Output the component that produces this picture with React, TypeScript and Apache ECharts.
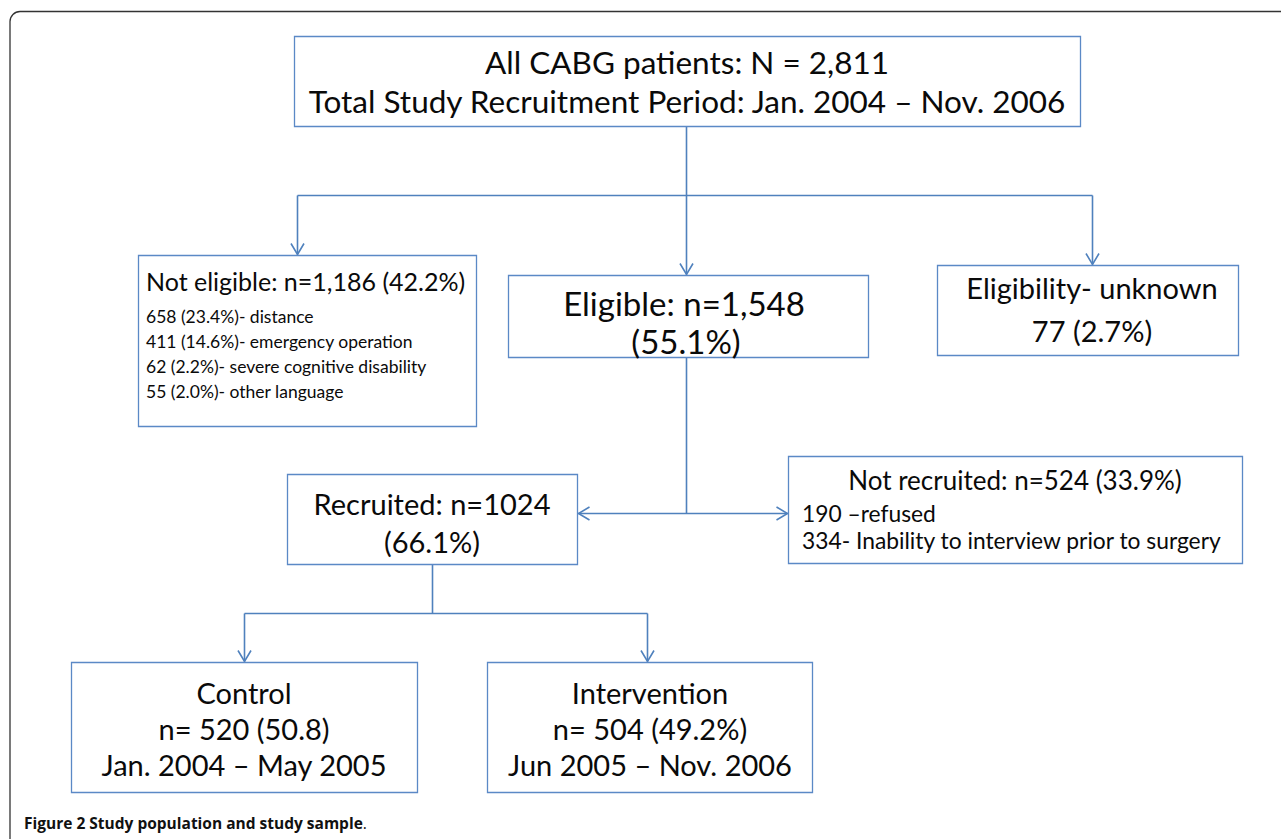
import React, { useEffect, useRef } from "react";
import * as echarts from "echarts";

// ---- Text content (data) ----
const topLines = ["All CABG patients: N = 2,811", "Total Study Recruitment Period: Jan. 2004 \u2013 Nov. 2006"];
const notEligibleTitle = "Not eligible: n=1,186 (42.2%)";
const notEligibleReasons = [
  "658 (23.4%)- distance",
  "411 (14.6%)- emergency operation",
  "62 (2.2%)- severe cognitive disability",
  "55 (2.0%)- other language",
];
const eligibleLines = ["Eligible: n=1,548", "(55.1%)"];
const unknownLines = ["Eligibility- unknown", "77 (2.7%)"];
const recruitedLines = ["Recruited: n=1024", "(66.1%)"];
const notRecruitedTitle = "Not recruited: n=524 (33.9%)";
const notRecruitedReasons = ["190 \u2013refused", "334- Inability to interview prior to surgery"];
const controlLines = ["Control", "n= 520 (50.8)", "Jan. 2004 \u2013 May 2005"];
const interventionLines = ["Intervention", "n= 504 (49.2%)", "Jun 2005 \u2013 Nov. 2006"];
const captionBold = "Figure 2 Study population and study sample";
const captionTail = ".";

// ---- Layout / style constants ----
const W = 1281;
const H = 839;
const BLUE = "#4F81BD";
const BOX = "#5B89C6";
const FONT = "Lato, 'Open Sans', sans-serif";
const TXT = "#0a0a0a";

function rect(x: number, y: number, w: number, h: number) {
  return {
    type: "rect",
    shape: { x: x + 0.5, y: y + 0.5, width: w, height: h },
    style: { fill: "#fff", stroke: BOX, lineWidth: 1.3 },
  };
}
function line(x1: number, y1: number, x2: number, y2: number) {
  return {
    type: "line",
    shape: { x1: x1 + 0.5, y1: y1 + 0.5, x2: x2 + 0.5, y2: y2 + 0.5 },
    style: { stroke: BLUE, lineWidth: 1.6 },
  };
}
function head(x: number, y: number, dir: "down" | "left" | "right") {
  const L = 11;
  const S = 6.5;
  let pts: number[][];
  if (dir === "down") pts = [[x - S, y - L], [x, y], [x + S, y - L]];
  else if (dir === "left") pts = [[x + L, y - S], [x, y], [x + L, y + S]];
  else pts = [[x - L, y - S], [x, y], [x - L, y + S]];
  return {
    type: "polyline",
    shape: { points: pts.map((p) => [p[0] + 0.5, p[1] + 0.5]) },
    style: { stroke: BLUE, lineWidth: 1.6, fill: null },
  };
}
function text(
  s: string,
  x: number,
  y: number,
  size: number,
  align: "left" | "center" = "center",
  weight: string = "normal",
  fontFamily: string = FONT
) {
  return {
    type: "text",
    x,
    y,
    style: {
      text: s,
      font: `${weight} ${size}px ${fontFamily}`,
      fill: TXT,
      align,
      verticalAlign: "middle",
      textAlign: align,
      textVerticalAlign: "middle",
    },
  };
}

export default function App() {
  const ref = useRef<HTMLDivElement>(null);
  useEffect(() => {
    if (!ref.current) return;
    const chart = echarts.init(ref.current, undefined, { renderer: "svg" });
    const els: any[] = [];

    // outer frame (only top-left corner visible)
    els.push({
      type: "rect",
      shape: { x: 10, y: 11.5, width: 1500, height: 1200, r: 10 },
      style: { fill: "none", stroke: "#333", lineWidth: 1.3 },
    });

    // connectors
    els.push(line(686, 126, 686, 195));
    els.push(line(297, 195, 1092, 195));
    els.push(line(297, 195, 297, 254), head(297, 254, "down"));
    els.push(line(686, 195, 686, 274), head(686, 274, "down"));
    els.push(line(1092, 195, 1092, 264), head(1092, 264, "down"));
    els.push(line(686, 357, 686, 513));
    els.push(line(578, 513, 787, 513), head(578, 513, "left"), head(787, 513, "right"));
    els.push(line(432, 564, 432, 613));
    els.push(line(244, 613, 647, 613));
    els.push(line(244, 613, 244, 661), head(244, 661, "down"));
    els.push(line(647, 613, 647, 661), head(647, 661, "down"));

    // boxes
    els.push(rect(294, 36, 786, 90));
    els.push(rect(138, 255, 338, 171));
    els.push(rect(508, 275, 360, 82));
    els.push(rect(937, 265, 301, 90));
    els.push(rect(287, 474, 290, 90));
    els.push(rect(788, 456, 454, 107));
    els.push(rect(71, 662, 346, 130));
    els.push(rect(487, 662, 325, 130));

    // texts
    els.push(text(topLines[0], 687, 62, 31.5));
    els.push(text(topLines[1], 687, 101, 31.5));

    els.push(text(notEligibleTitle, 146, 281, 25, "left"));
    notEligibleReasons.forEach((s, i) => els.push(text(s, 146, 316 + i * 25, 17.5, "left")));

    els.push(text(eligibleLines[0], 684, 303, 33));
    els.push(text(eligibleLines[1], 686, 341, 33));

    els.push(text(unknownLines[0], 1092, 287, 29));
    els.push(text(unknownLines[1], 1092, 330, 29));

    els.push(text(recruitedLines[0], 432, 503, 29));
    els.push(text(recruitedLines[1], 432, 541, 29));

    els.push(text(notRecruitedTitle, 1015, 480, 26));
    notRecruitedReasons.forEach((s, i) => els.push(text(s, 802, 513 + i * 27, 22.8, "left")));

    controlLines.forEach((s, i) => els.push(text(s, 244, 692 + i * 36, 29)));
    interventionLines.forEach((s, i) => els.push(text(s, 650, 692 + i * 36, 29)));

    // caption
    els.push({
      type: "text",
      x: 24,
      y: 823,
      style: {
        text: `{b|${captionBold}}{r|${captionTail}}`,
        rich: {
          b: { font: `bold 15.5px 'Open Sans', sans-serif`, fill: "#111" },
          r: { font: `normal 15.5px 'Open Sans', sans-serif`, fill: "#111" },
        },
        fill: "#111",
        align: "left",
        verticalAlign: "middle",
        textAlign: "left",
        textVerticalAlign: "middle",
      },
    });

    chart.setOption({
      animation: false,
      backgroundColor: "#fff",
      graphic: { elements: els },
    });
    return () => chart.dispose();
  }, []);
  return (
    <div
      ref={ref}
      style={{
        position: "fixed",
        left: 0,
        top: 0,
        width: W,
        height: H,
        background: "#fff",
        fontVariantLigatures: "none",
        fontFeatureSettings: '"liga" 0, "clig" 0',
      }}
    />
  );
}
